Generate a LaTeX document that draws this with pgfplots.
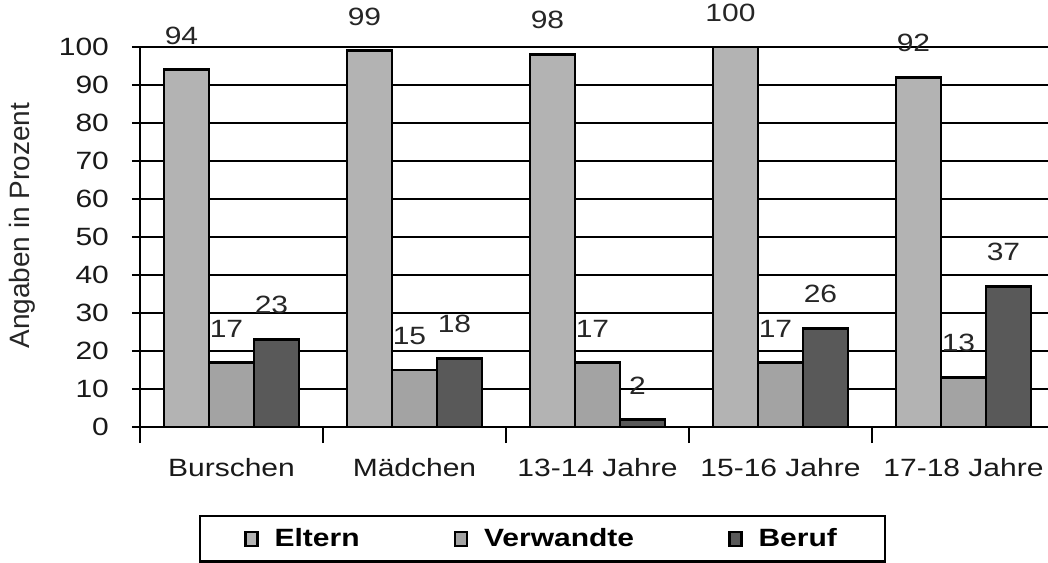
\documentclass[border=0pt]{standalone}
\usepackage{fontspec}
\setmainfont{Liberation Sans}[FakeStretch=1.2]
\newfontfamily\plainsans{Liberation Sans}
\usepackage{pgfplots}
\pgfplotsset{compat=1.18}
\definecolor{eltern}{HTML}{B3B3B3}
\definecolor{verw}{HTML}{A3A3A3}
\definecolor{beruf}{HTML}{595959}
\newcommand{\lbl}{\fontsize{12.5}{14}\selectfont}

\begin{document}
\begin{tikzpicture}
\begin{axis}[
    scale only axis,
    width=454pt, height=190pt,
    ybar=0pt, bar width=22.5pt,
    xmin=-0.5, xmax=4.462,
    ymin=0, ymax=100,
    axis x line=bottom, axis y line=left,
    axis line style={-, line width=1.4pt},
    xtick={-0.5,0.5,1.5,2.5,3.5},
    xticklabels={},
    x tick style={line width=1.3pt, black},
    xtick align=outside,
    extra x ticks={0,1,2,3,4},
    extra x tick labels={Burschen,Mädchen,13-14 Jahre,15-16 Jahre,17-18 Jahre},
    extra x tick style={major tick length=0pt, xticklabel style={yshift=-12pt}},
    ytick={0,10,...,100},
    ytick align=center,
    y tick style={line width=1.3pt, black},
    major tick length=8pt,
    ymajorgrids,
    grid style={black, line width=1.4pt},
    tick label style={font=\lbl, text=black!90},
    yticklabel style={xshift=-8pt},
    /pgf/number format/assume math mode=true,
    ylabel={Angaben in Prozent},
    ylabel style={at={(axis description cs:-0.13,0.53)}, anchor=center, font=\plainsans\fontsize{14}{16}\selectfont, text=black!85},
    clip=false,
    nodes near coords,
    every node near coord/.append style={anchor=south, inner sep=0pt, yshift=12pt, xshift=-2.5pt, text=black!85, font=\lbl},
    legend columns=3,
    legend image code/.code={\draw[#1, line width=1.2pt] (0pt,-3.5pt) rectangle (6pt,3.5pt);},
    legend style={at={(axis description cs:0.065,-0.2316)}, anchor=north west,
        draw=black, line width=1.2pt, font=\bfseries\lbl,
        inner xsep=22pt, inner ysep=4pt,
        /tikz/every odd column/.append style={column sep=6pt},
        /tikz/every even column/.append style={column sep=45pt}},
]
\addplot[fill=eltern, draw=black, line width=1.4pt] coordinates {(0,94) (1,99) (2,98) (3,100) (4,92)};
\addlegendentry{Eltern}
\addplot[fill=verw, draw=black, line width=1.4pt] coordinates {(0,17) (1,15) (2,17) (3,17) (4,13)};
\addlegendentry{Verwandte}
\addplot[fill=beruf, draw=black, line width=1.4pt] coordinates {(0,23) (1,18) (2,2) (3,26) (4,37)};
\addlegendentry{Beruf}
\end{axis}
\pgfresetboundingbox
\path[use as bounding box] ([xshift=-70pt,yshift=-67.5pt]current axis.south west) rectangle ([yshift=23.5pt]current axis.north east);
\end{tikzpicture}
\end{document}
